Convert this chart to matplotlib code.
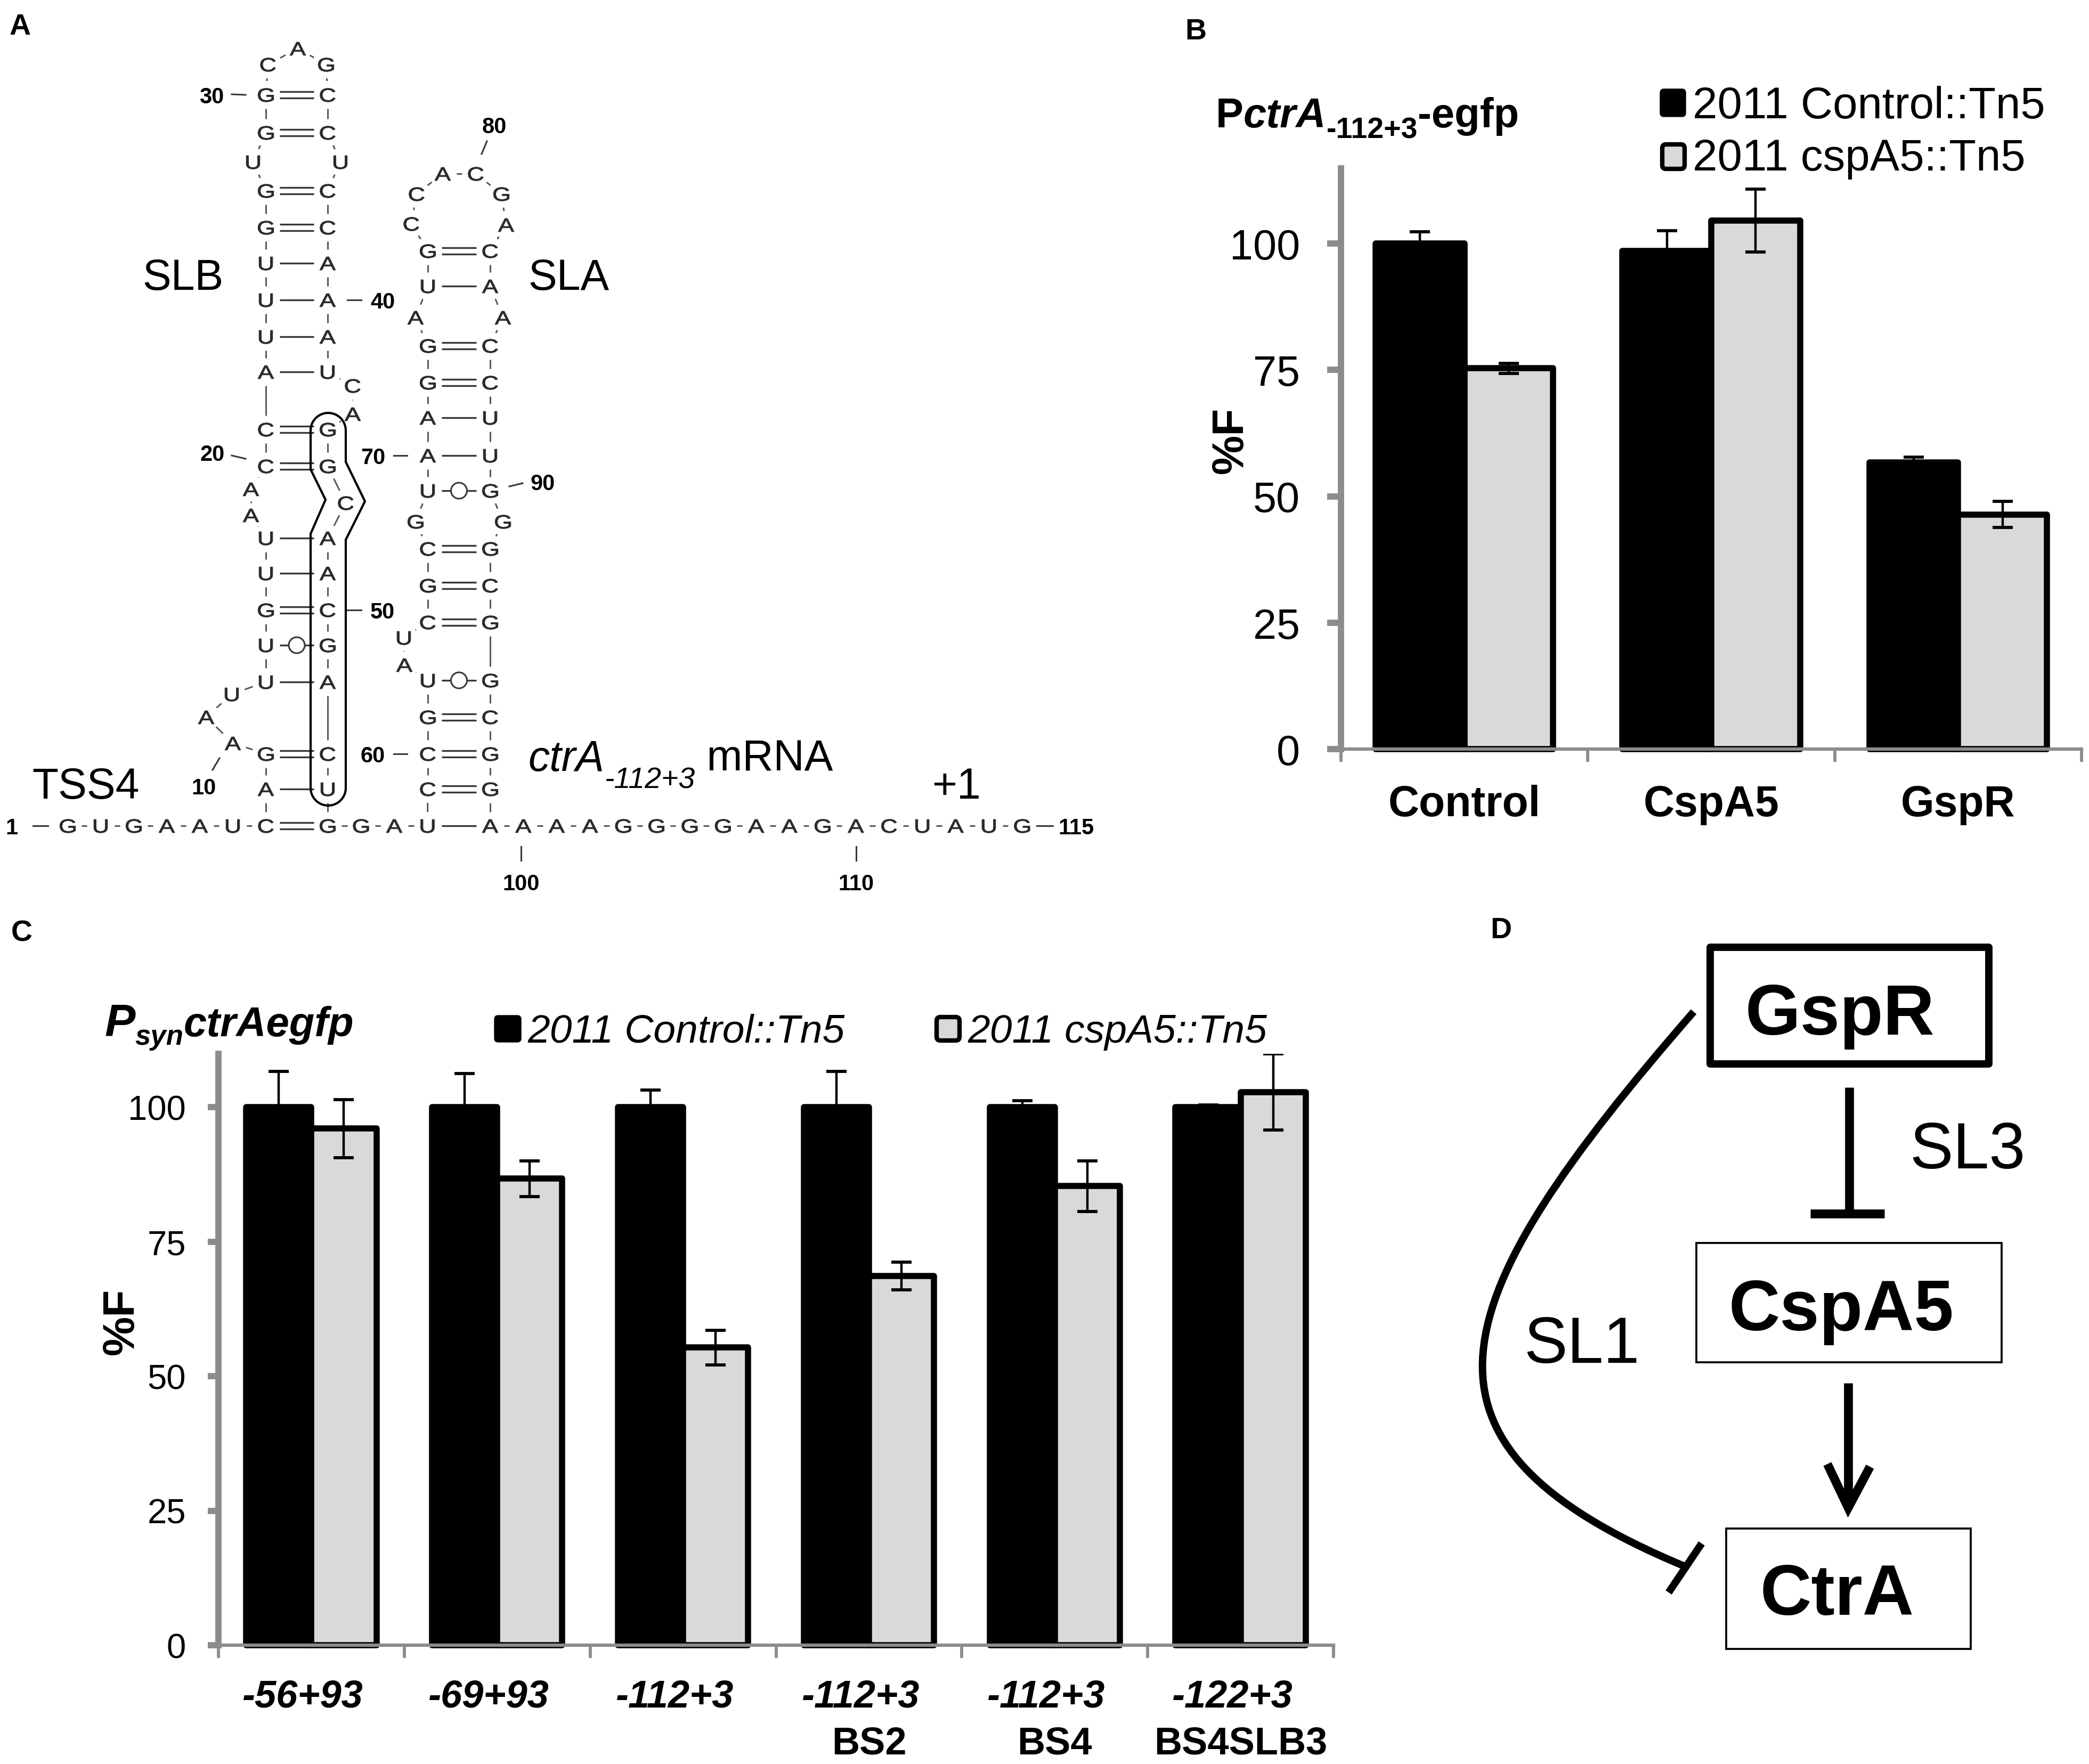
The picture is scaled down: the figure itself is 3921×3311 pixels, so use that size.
import numpy as np
import matplotlib
matplotlib.use('Agg')
import matplotlib.pyplot as plt
from matplotlib.patches import FancyBboxPatch, Rectangle, Circle, PathPatch
from matplotlib.path import Path
from matplotlib.textpath import TextPath
from matplotlib.font_manager import FontProperties
from matplotlib.transforms import Affine2D

plt.rcParams['font.family'] = ['Liberation Sans', 'DejaVu Sans']

W, H = 3921, 3312

# ---------------- data ----------------
# panel A: ctrA(-112+3) mRNA, 5'->3', positions 1..115
SEQ = ('GUGAAUC' 'AGAAUUUGUU' 'AACCAUUUGG' 'UGGCAGCCUC' 'CAAAUCAGGC'
       'AACGACUGGA' 'UCCGUAUCGC' 'GUAAGGAUGC' 'CACGACAACC' 'UUGGGCGGCG'
       'GAAAAGGGGA' 'AGACUAUG')
pairs = [(7, 55), (8, 54), (9, 53), (13, 52), (14, 51), (15, 50), (16, 49), (17, 48),
         (20, 46), (21, 45), (22, 42), (23, 41), (24, 40), (25, 39), (26, 38), (27, 37),
         (29, 35), (30, 34),
         (58, 99), (59, 98), (60, 97), (61, 96), (62, 95), (65, 94), (66, 93), (67, 92),
         (69, 90), (70, 89), (71, 88), (72, 87), (73, 86), (75, 84), (76, 83)]
# row (pixel y) of every base pair, keyed by 5' partner
pair_rows = {7: 1551, 8: 1482, 9: 1416, 13: 1281, 14: 1212, 15: 1146, 16: 1077, 17: 1011,
             20: 876, 21: 807, 22: 699, 23: 633, 24: 564, 25: 495, 26: 428, 27: 359,
             29: 250, 30: 179,
             58: 1551, 59: 1482, 60: 1416, 61: 1347, 62: 1278, 65: 1169, 66: 1100, 67: 1031,
             69: 922, 70: 856, 71: 785, 72: 719, 73: 650, 75: 538, 76: 472}
# unpaired bases in loops / bulges
loop_pos = {10: (437, 1396), 11: (387, 1347), 12: (435, 1304), 18: (471, 968), 19: (471, 919),
            28: (475, 305), 31: (503, 122), 32: (559, 92), 33: (612, 122), 36: (639, 305),
            43: (662, 725), 44: (662, 778), 47: (649, 945), 63: (759, 1249), 64: (758, 1198),
            68: (780, 980), 74: (780, 597), 77: (772, 421), 78: (782, 365), 79: (831, 327),
            80: (893, 327), 81: (941, 365), 82: (950, 423), 85: (944, 597), 91: (944, 980)}
num_labels = [('1', (22, 1551), (62, 1551), (90, 1551)),
              ('10', (382, 1476), (399, 1446), (412, 1424)),
              ('20', (399, 850), (435, 856), (461, 862)),
              ('30', (397, 179), (435, 178), (461, 179)),
              ('40', (718, 564), (652, 564), (678, 564)),
              ('50', (718, 1146), (652, 1146), (678, 1146)),
              ('60', (700, 1416), (739, 1416), (764, 1416)),
              ('70', (700, 856), (739, 856), (764, 856)),
              ('80', (928, 235), (914, 266), (904, 290)),
              ('90', (1019, 905), (956, 914), (981, 908)),
              ('100', (978, 1656), (978, 1590), (978, 1616)),
              ('110', (1607, 1656), (1607, 1590), (1607, 1616)),
              ('115', (2020, 1551), (1946, 1551), (1976, 1551))]

# panel B
b_groups = ['Control', 'CspA5', 'GspR']
b_ctrl = [100, 98.5, 56.7]
b_ctrl_err = [2.3, 4.0, 1.0]
b_csp = [75.3, 104.5, 46.4]
b_csp_err = [1.0, 6.2, 2.6]

# panel C
c_line1 = ['-56+93', '-69+93', '-112+3', '-112+3', '-112+3', '-122+3']
c_line2 = ['', '', '', 'BS2', 'BS4', 'BS4SLB3']
c_ctrl = [100, 100, 100, 100, 100, 100]
c_ctrl_err = [6.6, 6.2, 3.2, 6.6, 1.2, 0.4]
c_csp = [96.0, 86.7, 55.3, 68.6, 85.3, 102.8]
c_csp_err = [5.4, 3.3, 3.2, 2.6, 4.7, 7.1]

yticks = [0, 25, 50, 75, 100]
legend_labels = ['2011 Control::Tn5', '2011 cspA5::Tn5']

# ---------------- figure ----------------
fig = plt.figure(figsize=(W / 100, H / 100), dpi=100)
ov = fig.add_axes([0, 0, 1, 1])   # pixel-coordinate overlay for A, D and free text
ov.set_xlim(0, W)
ov.set_ylim(H, 0)
ov.axis('off')
R = fig.canvas.get_renderer()


def put(x, y, parts):
    # write text pieces one after another on a common baseline
    for txt, kw in parts:
        kw = dict(kw)
        dy = kw.pop('dy', 0)
        t = ov.text(x, y + dy, txt, ha='left', va='baseline', **kw)
        x += t.get_window_extent(renderer=R).width
    return x


def seg(p, q, shrink, **kw):
    p = np.asarray(p, float)
    q = np.asarray(q, float)
    d = q - p
    u = d / np.hypot(*d)
    a, b = p + u * shrink, q - u * shrink
    ov.plot([a[0], b[0]], [a[1], b[1]], solid_capstyle='butt', **kw)
    return a, b, u


FP = FontProperties(family='Liberation Sans')


def glyph(ch, x, y, size=36, sx=1.25, color='#2a2a2a'):
    # nucleotide letter, slightly widened like the original drawing
    tp = TextPath((0, 0), ch, size=size, prop=FP)
    bb = tp.get_extents()
    tr = (Affine2D().translate(-(bb.x0 + bb.x1) / 2, -0.716 * size / 2)
          .scale(sx, -1).translate(x, y))
    ov.add_patch(PathPatch(tr.transform_path(tp), fc=color, ec=color, lw=0.7, zorder=4))


# panel letters
for lab, (x, y) in zip('ABCD', [(38, 45), (2244, 54), (41, 1747), (2817, 1741)]):
    ov.text(x, y + 20, lab, ha='center', va='baseline', fontsize=40, fontweight='bold')

# ---------------- panel A ----------------
XL1, XR1, XL2, XR2, Y0 = 499, 615, 803, 920, 1551
pos = {}
for i in range(1, 8):
    pos[i] = (XL1 - 62 * (7 - i), Y0)
for i in range(55, 59):
    pos[i] = (XR1 + 62.5 * (i - 55), Y0)
for i in range(99, 116):
    pos[i] = (XR2 + 62.4 * (i - 99), Y0)
for a, b in pairs:
    y = pair_rows[a]
    xa, xb = (XL1, XR1) if a < 56 else (XL2, XR2)
    pos.setdefault(a, (xa, y))
    pos.setdefault(b, (xb, y))
pos.update(loop_pos)

for i in range(1, len(SEQ)):
    seg(pos[i], pos[i + 1], 26, color='#555555', lw=2.1)

for a, b in pairs:
    kind = ''.join(sorted(SEQ[a - 1] + SEQ[b - 1]))
    p, q, u = seg(pos[a], pos[b], 26, lw=0)
    n = np.array([-u[1], u[0]])
    if kind == 'CG':
        for s in (-6, 6):
            ov.plot([p[0] + n[0] * s, q[0] + n[0] * s], [p[1] + n[1] * s, q[1] + n[1] * s],
                    color='#383838', lw=2.4, solid_capstyle='butt')
    else:
        ov.plot([p[0], q[0]], [p[1], q[1]], color='#383838', lw=2.4, solid_capstyle='butt')
        if kind == 'GU':
            m = (p + q) / 2
            ov.add_patch(Circle(m, 15, facecolor='white', edgecolor='#383838', lw=2.2, zorder=3))

for i, ch in enumerate(SEQ, start=1):
    glyph(ch, *pos[i])

for txt, (lx, ly), t0, t1 in num_labels:
    ov.text(lx, ly + 15, txt, ha='center', va='baseline', fontsize=30, fontweight='bold')
    ov.plot([t0[0], t1[0]], [t0[1], t1[1]], color='#383838', lw=2.2)

# outline around the CspA5 binding region
cx, r = 616, 33
pts = [(cx + r * np.cos(t), 809 - r * np.sin(t)) for t in np.linspace(np.pi, 0, 24)]
pts += [(649, 868), (685, 942), (649, 1014), (649, 1480)]
pts += [(cx + r * np.cos(t), 1480 + r * np.sin(t)) for t in np.linspace(0, np.pi, 24)]
pts += [(583, 1003), (611, 939), (583, 882), (583, 809)]
ov.plot(*zip(*pts), color='black', lw=3, solid_joinstyle='round', zorder=5)

ov.text(343, 523 + 21, 'SLB', ha='center', va='baseline', fontsize=58)
ov.text(1067, 523 + 21, 'SLA', ha='center', va='baseline', fontsize=58)
ov.text(161, 1478 + 21, 'TSS4', ha='center', va='baseline', fontsize=58)
ov.text(1795, 1478 + 21, '+1', ha='center', va='baseline', fontsize=58)
put(991, 1447, [('ctrA', dict(fontsize=58, style='italic')),
                ('-112+3', dict(fontsize=40, style='italic', dy=33)),
                (' mRNA', dict(fontsize=58))])

# ---------------- panels B and C ----------------
AXC = '#8c8c8c'


def bar_panel(px, ctrl, ctrl_err, mut, mut_err, w, ylen, pad, ysize):
    left, right, bottom, top, unit = px
    ax = fig.add_axes([left / W, 1 - bottom / H, (right - left) / W, (bottom - top) / H])
    ax.patch.set_alpha(0)
    n = len(ctrl)
    x = np.arange(n)
    ax.bar(x - w / 2, ctrl, w, color='black', edgecolor='black', linewidth=8.3,
           joinstyle='round', clip_on=False)
    ax.bar(x + w / 2, mut, w, color='#d9d9d9', edgecolor='black', linewidth=8.3,
           joinstyle='round', clip_on=False)
    ax.errorbar(x - w / 2, ctrl, yerr=ctrl_err, fmt='none', ecolor='black',
                elinewidth=3.2, capsize=13.5, capthick=4.2, zorder=3)
    ax.errorbar(x + w / 2, mut, yerr=mut_err, fmt='none', ecolor='black',
                elinewidth=3.2, capsize=13.5, capthick=4.2, zorder=3)
    ax.set_xlim(-0.5, n - 0.5)
    ax.set_ylim(0, (bottom - top) / unit)
    for s in ('top', 'right'):
        ax.spines[s].set_visible(False)
    ax.spines['left'].set_color(AXC)
    ax.spines['left'].set_linewidth(8.5)
    ax.spines['bottom'].set_color(AXC)
    ax.spines['bottom'].set_linewidth(4.5)
    ax.set_xticks(np.arange(n + 1) - 0.5)
    ax.set_xticklabels([])
    ax.tick_params(axis='x', direction='out', length=17, width=4.2, color=AXC)
    ax.set_yticks(yticks)
    ax.tick_params(axis='y', direction='out', length=ylen, width=8.5, color=AXC,
                   labelsize=ysize, pad=pad)
    return ax


# B: y-axis at x=2517, x-axis at y=1407, 100 % at y=458
axB = bar_panel((2517, 3907, 1407, 317, 9.49), b_ctrl, b_ctrl_err, b_csp, b_csp_err,
                0.36, 18.4, 37, 57)
for i, lab in enumerate(b_groups):
    axB.annotate(lab, xy=(i, 0), xycoords=('data', 'axes fraction'),
                 xytext=(0, -(1532 - 1407) / 1.389), textcoords='offset points',
                 ha='center', va='baseline', fontsize=58, fontweight='bold')

# C: y-axis at x=410, x-axis at y=3089, 100 % at y=2079
axC = bar_panel((410, 2503, 3089, 1979, 10.1), c_ctrl, c_ctrl_err, c_csp, c_csp_err,
                0.35, 14.4, 29.5, 47)
for i, (l1, l2) in enumerate(zip(c_line1, c_line2)):
    axC.annotate(l1, xy=(i, 0), xycoords=('data', 'axes fraction'),
                 xytext=(-12, -(3205 - 3089) / 1.389), textcoords='offset points',
                 ha='center', va='baseline', fontsize=52, fontweight='bold', style='italic')
    if l2:
        axC.annotate(l2, xy=(i, 0), xycoords=('data', 'axes fraction'),
                     xytext=(0, -(3293 - 3089) / 1.389), textcoords='offset points',
                     ha='center', va='baseline', fontsize=52, fontweight='bold')

# y labels
ov.text(2310, 826, '%F', rotation=90, ha='center', va='center', fontsize=60, fontweight='bold')
ov.text(228, 2480, '%F', rotation=90, ha='center', va='center', fontsize=60, fontweight='bold')

# titles
put(2282, 239, [('P', dict(fontsize=56, fontweight='bold')),
                ('ctrA', dict(fontsize=56, fontweight='bold', style='italic')),
                ('-112+3', dict(fontsize=40, fontweight='bold', dy=21)),
                ('-egfp', dict(fontsize=56, fontweight='bold'))])
put(196, 1945, [('P', dict(fontsize=62, fontweight='bold', style='italic')),
                ('syn', dict(fontsize=38, fontweight='bold', style='italic', dy=16)),
                ('ctrAegfp', dict(fontsize=56, fontweight='bold', style='italic'))])


# legends
def legend_key(x, y, w, h, grey):
    ov.add_patch(FancyBboxPatch((x, y), w, h, boxstyle='round,pad=0,rounding_size=7',
                                facecolor='#d9d9d9' if grey else 'black',
                                edgecolor='black', lw=6 if grey else 1))


legend_key(3116, 168, 48, 52, False)
legend_key(3120, 272, 42, 46, True)
ov.text(3177, 222, legend_labels[0], ha='left', va='baseline', fontsize=60)
ov.text(3177, 320, legend_labels[1], ha='left', va='baseline', fontsize=60)

legend_key(928, 1907, 50, 50, False)
legend_key(1758, 1910, 43, 44, True)
ov.text(990, 1957, legend_labels[0], ha='left', va='baseline', fontsize=54, style='italic')
ov.text(1816, 1957, legend_labels[1], ha='left', va='baseline', fontsize=54, style='italic')

# ---------------- panel D ----------------
ov.add_patch(Rectangle((3210, 1779), 523, 219, fill=False, lw=10, ec='black', joinstyle='round'))
ov.add_patch(Rectangle((3184, 2334), 573, 224, fill=False, lw=2.7, ec='black'))
ov.add_patch(Rectangle((3240, 2870), 459, 226, fill=False, lw=2.7, ec='black'))
ov.text(3453, 1942, 'GspR', ha='center', va='baseline', fontsize=96, fontweight='bold')
ov.text(3456, 2497, 'CspA5', ha='center', va='baseline', fontsize=96, fontweight='bold')
ov.text(3448, 3031, 'CtrA', ha='center', va='baseline', fontsize=96, fontweight='bold')
ov.text(3584, 2193, 'SL3', ha='left', va='baseline', fontsize=88)
ov.text(2860, 2558, 'SL1', ha='left', va='baseline', fontsize=88)

# GspR -| CspA5
ov.plot([3471, 3471], [2042, 2279], color='black', lw=12, solid_capstyle='butt')
ov.plot([3398, 3537], [2279, 2279], color='black', lw=12, solid_capstyle='butt')
# CspA5 -> CtrA
ov.plot([3469, 3469], [2597, 2822], color='black', lw=12, solid_capstyle='butt')
ov.plot([3430, 3469, 3510], [2749, 2831, 2754], color='black', lw=12,
        solid_joinstyle='miter', solid_capstyle='butt')
# GspR -| CtrA (curved)
curve = Path([(3179, 1900), (2700, 2450), (2610, 2710), (3160, 2940)],
             [Path.MOVETO, Path.CURVE4, Path.CURVE4, Path.CURVE4])
ov.add_patch(PathPatch(curve, fill=False, lw=10, ec='black', capstyle='butt'))
ov.plot([3132, 3194], [2990, 2898], color='black', lw=10, solid_capstyle='butt')

fig.savefig('out.png', dpi=100)
